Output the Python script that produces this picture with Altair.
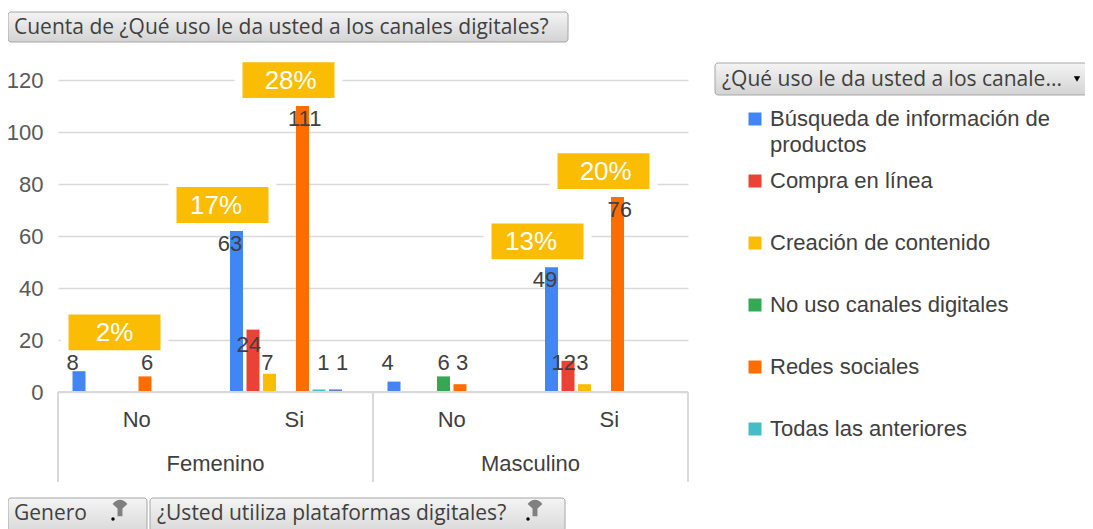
import altair as alt
import pandas as pd

# ---------------- data ----------------
genero = ["Femenino", "Femenino", "Masculino", "Masculino"]
plataformas = ["No", "Si", "No", "Si"]
series = [
    "Búsqueda de información de productos",
    "Compra en línea",
    "Creación de contenido",
    "No uso canales digitales",
    "Redes sociales",
    "Todas las anteriores",
    "Otro uso",
]
colors = ["#4285F4", "#EA4335", "#FBBC04", "#34A853", "#FF6D01", "#46BDC6", "#5B82C8"]
legend_series = series[:6]
legend_text = [
    "Búsqueda de información de\nproductos",
    "Compra en línea",
    "Creación de contenido",
    "No uso canales digitales",
    "Redes sociales",
    "Todas las anteriores",
]

busqueda = [8, 63, 4, 49]
compra = [None, 24, None, 12]
creacion = [None, 7, None, 3]
no_uso = [None, None, 6, None]
redes = [6, 111, 3, 76]
todas = [None, 1, None, None]
otro = [None, 1, None, None]
values_by_series = [busqueda, compra, creacion, no_uso, redes, todas, otro]

pct_labels = ["2%", "17%", "28%", "13%", "20%"]
pct_cat_index = [0, 1, 1, 3, 3]
pct_anchor = ["No uso canales digitales", series[0], "Redes sociales", series[0], "Redes sociales"]
pct_base = [8, 63, 111, 49, 76]

cats = [f"{g}|{p}" for g, p in zip(genero, plataformas)]

rows = []
for i, c in enumerate(cats):
    for s, vals in zip(series, values_by_series):
        if vals[i] is not None:
            rows.append({"cat": c, "serie": s, "valor": vals[i]})
df = pd.DataFrame(rows)

df_pct = pd.DataFrame({
    "cat": [cats[i] for i in pct_cat_index],
    "serie": pct_anchor,
    "base": pct_base,
    "pct": pct_labels,
})
df_leg = pd.DataFrame({"serie": legend_series, "texto": legend_text})
df_gen = pd.DataFrame({"cat": [cats[1], cats[3]], "g": [genero[1], genero[3]]})
df_plat = pd.DataFrame({"cat": cats, "p": plataformas})
one = pd.DataFrame({"k": [0]})

# ---------------- styles ----------------
FONT = "Liberation Sans"
BTN_FONT = "Open Sans"
W, H = 630, 312
GRID = "#D9D9D9"

xscale = alt.Scale(domain=cats, paddingInner=0, paddingOuter=0)
xoff_scale = alt.Scale(domain=series, range=[14.5, 126.5], paddingInner=0.212, paddingOuter=0)
xoff_box_scale = alt.Scale(domain=series, range=[0.5, 112.5], paddingInner=0.212, paddingOuter=0)
yscale = alt.Scale(domain=[0, 120], nice=False)
cscale = alt.Scale(domain=series, range=colors)

x_axis = alt.Axis(
    title=None, labels=False, ticks=False, tickSize=0,
    domainColor=GRID, domainWidth=2, grid=False,
)
y_axis = alt.Axis(
    title=None, values=[0, 20, 40, 60, 80, 100, 120], gridColor=GRID, gridWidth=1.5,
    domain=False, ticks=False, tickSize=0, labelPadding=15,
    labelFont=FONT, labelFontSize=22, labelColor="#595959",
)

# ---------------- plot layers ----------------
boxes = alt.Chart(df_pct).transform_calculate(
    lo="max(datum.base + 2, 16) - 1.5",
    hi="max(datum.base + 2, 16) + 15.35",
).mark_bar(width=100, color="#FBBC04", stroke="white", strokeWidth=8).encode(
    x=alt.X("cat:N", scale=xscale, axis=None),
    xOffset=alt.XOffset("serie:N", scale=xoff_box_scale),
    y=alt.Y("lo:Q", scale=yscale, axis=None),
    y2="hi:Q",
)

pct_text = alt.Chart(df_pct).transform_calculate(
    mid="max(datum.base + 2, 16) + 6.9",
).mark_text(font=FONT, fontSize=26, color="white", baseline="middle", dy=1).encode(
    x=alt.X("cat:N", scale=xscale, axis=None),
    xOffset=alt.XOffset("serie:N", scale=xoff_box_scale),
    y=alt.Y("mid:Q", scale=yscale, axis=None),
    text="pct:N",
)

bars = alt.Chart(df).mark_bar().encode(
    x=alt.X("cat:N", scale=xscale, axis=x_axis),
    xOffset=alt.XOffset("serie:N", scale=xoff_scale),
    y=alt.Y("valor:Q", scale=yscale, axis=y_axis),
    color=alt.Color("serie:N", scale=cscale, legend=None),
)

labels = alt.Chart(df).transform_calculate(
    ly="max(datum.valor - 6, 11)"
).mark_text(font=FONT, fontSize=22, color="#404040", baseline="middle").encode(
    x=alt.X("cat:N", scale=xscale, axis=None),
    xOffset=alt.XOffset("serie:N", scale=xoff_scale),
    y=alt.Y("ly:Q", scale=yscale, axis=None),
    text="valor:Q",
)

plat_text = alt.Chart(df_plat).mark_text(font=FONT, fontSize=22, color="#404040", baseline="middle").encode(
    x=alt.X("cat:N", scale=xscale, axis=None),
    y=alt.value(340),
    text="p:N",
)

gen_text = alt.Chart(df_gen).mark_text(font=FONT, fontSize=22, color="#404040", baseline="middle").encode(
    x=alt.X("cat:N", scale=xscale, axis=None, bandPosition=0),
    y=alt.value(384),
    text="g:N",
)

sep_a = alt.Chart(pd.DataFrame({"cat": [cats[0], cats[2]]})).mark_rule(color=GRID, strokeWidth=2).encode(
    x=alt.X("cat:N", scale=xscale, axis=None, bandPosition=0),
    y=alt.value(H), y2=alt.value(H + 90),
)
sep_b = alt.Chart(pd.DataFrame({"cat": [cats[3]]})).mark_rule(color=GRID, strokeWidth=2).encode(
    x=alt.X("cat:N", scale=xscale, axis=None, bandPosition=1),
    y=alt.value(H), y2=alt.value(H + 90),
)
base_line = alt.Chart(one).mark_rule(color=GRID, strokeWidth=2).encode(
    x=alt.value(0), x2=alt.value(W), y=alt.value(H)
)

# ---------------- legend ----------------
leg_y = alt.Y("serie:N", scale=alt.Scale(type="point", domain=legend_series, range=[39, 349], padding=0), axis=None)
leg_sq = alt.Chart(df_leg).mark_square(size=169, opacity=1).encode(
    x=alt.value(697), y=leg_y,
    color=alt.Color("serie:N", scale=cscale, legend=None),
)
leg_tx = alt.Chart(df_leg).mark_text(
    font=FONT, fontSize=22, color="#404040", align="left", baseline="middle",
    lineBreak="\n", lineHeight=26,
).encode(x=alt.value(712), y=leg_y, text="texto:N")

# ---------------- pivot buttons ----------------
grad = alt.LinearGradient(
    gradient="linear",
    stops=[alt.GradientStop(color="#F4F4F4", offset=0), alt.GradientStop(color="#D3D3D3", offset=1)],
    x1=0, x2=0, y1=0, y2=1,
)


def button(x0, x1, y0, y1):
    return alt.Chart(one).mark_rect(fill=grad, stroke="#A6A6A6", strokeWidth=1, cornerRadius=3).encode(
        x=alt.value(x0), x2=alt.value(x1), y=alt.value(y0), y2=alt.value(y1)
    )


def btext(txt, x, y, size=21):
    return alt.Chart(one).mark_text(
        text=txt, font=BTN_FONT, fontSize=size, color="#404040", align="left", baseline="middle"
    ).encode(x=alt.value(x), y=alt.value(y))


def funnel(x, y):
    f = alt.Chart(one).mark_point(
        shape="M-0.9,-0.5Q0,-1.5,0.9,-0.5L0.3,0.05L0.3,1L-0.3,1L-0.3,0.05Z", filled=True, size=270,
        color="#808080", opacity=1,
    ).encode(x=alt.value(x), y=alt.value(y))
    d = alt.Chart(one).mark_point(shape="circle", filled=True, size=12, color="#000000", opacity=1).encode(
        x=alt.value(x - 7), y=alt.value(y + 11)
    )
    return [f, d]


deco = [
    button(-50, 510, -68, -38),
    btext("Cuenta de ¿Qué uso le da usted a los canales digitales?", -44, -52),
    button(657, 1029, -17, 15),
    btext("¿Qué uso le da usted a los canale...", 664, 0),
    alt.Chart(one).mark_point(shape="triangle-down", filled=True, size=40, color="#000000", opacity=1).encode(
        x=alt.value(1019), y=alt.value(-1)
    ),
    button(-50, 89, 418, 460),
    btext("Genero", -44, 434),
    button(92, 507, 418, 460),
    btext("¿Usted utiliza plataformas digitales?", 99, 434),
] + funnel(62, 428) + funnel(477, 428)

chart = alt.layer(
    bars, boxes, pct_text, labels, plat_text, gen_text, sep_a, sep_b, base_line, leg_sq, leg_tx, *deco
).resolve_scale(y="independent", xOffset="independent").properties(
    width=W, height=H,
    padding={"left": 50, "top": 72, "right": 397, "bottom": 137},
    autosize=alt.AutoSizeParams(type="none"),
    background="white",
).configure_view(stroke=None)

chart.save("out.html", embed_options={"renderer": "svg", "actions": False})
